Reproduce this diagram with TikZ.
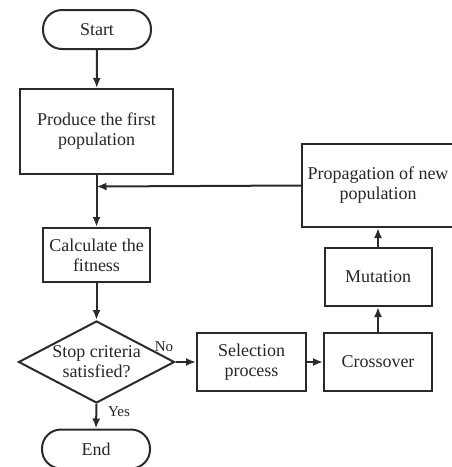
\documentclass[tikz,border=0pt]{standalone}
\usepackage{fontspec}
\setmainfont{Liberation Serif}
\usetikzlibrary{arrows.meta,shapes.geometric}
\definecolor{ink}{HTML}{2A2A2A}
\definecolor{txt}{HTML}{262626}
\begin{document}
\begin{tikzpicture}[x=1pt,y=-1pt,
  every node/.style={text=txt, font=\fontsize{18}{20}\selectfont, align=center},
  box/.style={draw=ink, line width=2pt, rectangle, inner sep=0pt},
  term/.style={draw=ink, line width=2pt, rectangle, rounded corners=19pt, inner sep=0pt, minimum width=108pt, minimum height=39pt},
  dia/.style={draw=ink, line width=2pt, diamond, inner sep=0pt, minimum width=156pt, minimum height=82pt},
  conn/.style={draw=ink, line width=2pt},
  arr/.style={conn, -{Latex[length=10pt,width=8pt]}},
  lbl/.style={font=\fontsize{15}{17}\selectfont}]
\useasboundingbox (0,0) rectangle (451,467);
\node[term] (start) at (97,29.5) {Start};
\node[box, minimum width=153pt, minimum height=85pt] (prod) at (96.5,131.5) {Produce the first\\population};
\coordinate (junc) at (96.5,186.5);
\node[box, minimum width=107pt, minimum height=54pt] (calc) at (96.5,255) {Calculate the\\fitness};
\node[dia] (dec) at (96.5,362) {};
\node at (dec.center) {Stop criteria\\satisfied?};
\node[term] (end) at (96,449) {End};
\node[box, minimum width=109pt, minimum height=58pt] (sel) at (251.5,362) {Selection\\process};
\node[box, minimum width=108pt, minimum height=58pt] (cross) at (378,362) {Crossover};
\node[box, minimum width=107pt, minimum height=58pt] (mut) at (378,277) {Mutation};
\node[box, minimum width=152pt, minimum height=83pt] (prop) at (378,185.5) {Propagation of new\\population};
\draw[arr] (start) -- (prod);
\draw[conn] (prod.south) -- (junc);
\draw[arr] (junc) -- (calc.north);
\draw[arr] (prop.west) -- (junc);
\draw[arr] (calc) -- (dec.north);
\draw[arr] (dec.east) -- (sel.west);
\draw[arr] (dec.south) -- (end.north);
\draw[arr] (sel) -- (cross);
\draw[arr] (cross) -- (mut);
\draw[arr] (mut) -- (prop);
\node[lbl] (no) at (164,347) {No};
\node[lbl] (yes) at (119,412) {Yes};
\end{tikzpicture}
\end{document}
